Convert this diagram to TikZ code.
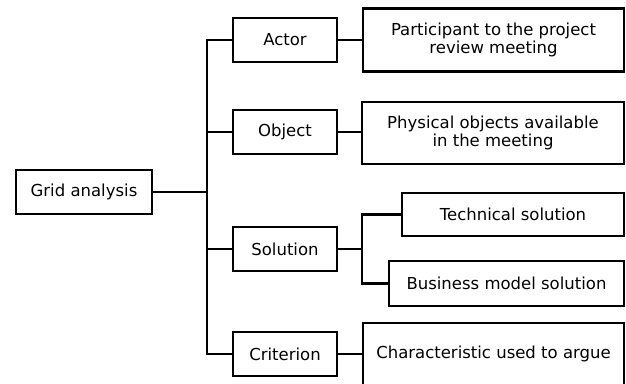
\documentclass[tikz,border=0pt]{standalone}
\usepackage{fontspec}
\setmainfont{DejaVu Sans}
\usetikzlibrary{calc}
\tikzset{
  box/.style={draw, line width=2.2pt, align=center, inner sep=0pt,
    font=\fontsize{16.5}{18.5}\selectfont},
  link/.style={line width=2.2pt}
}

\begin{document}
\begin{tikzpicture}[x=1pt, y=-1pt]
		%%%%% START %%%%%
		\useasboundingbox (0, 0) rectangle (626, 383);
		\clip (0, 0) rectangle (626, 383);
		
		\node[box, minimum width=136pt, minimum height=44pt] (grid) at (84, 192) {Grid analysis};
		
		\node[box, minimum width=104pt, minimum height=44pt] (actor) at (285, 40) {Actor};
		\node[box, minimum width=104pt, minimum height=44pt] (object) at (285, 132) {Object};
		\node[box, minimum width=104pt, minimum height=44pt] (solution) at (285, 249) {Solution};
		\node[box, minimum width=104pt, minimum height=44pt] (criterion) at (285, 354) {Criterion};
		
		\node[box, minimum width=261pt, minimum height=63pt] (actordesc) at (493.5, 40) {Participant to the project\\review meeting};
		\node[box, minimum width=262pt, minimum height=62pt] (objectdesc) at (493, 133) {Physical objects available\\in the meeting};
		\node[box, minimum width=222pt, minimum height=43pt] (technical) at (513, 214.5) {Technical solution};
		\node[box, minimum width=235pt, minimum height=45pt] (business) at (506.5, 283.5) {Business model solution};
		\node[box, minimum width=261pt, minimum height=62pt] (criteriondesc) at (493.5, 354) {Characteristic used to argue};
		
		\draw[link] (grid.east) -| ([xshift=-25pt]actor.west) -- (actor.west);
		\draw[link] (grid.east) -| ([xshift=-25pt]object.west) -- (object.west);
		\draw[link] (grid.east) -| ([xshift=-25pt]solution.west) -- (solution.west);
		\draw[link] (grid.east) -| ([xshift=-25pt]criterion.west) -- (criterion.west);
		
		\draw[link] (actor.east) -- (actor.east -| actordesc.west);
		\draw[link] (object.east) -- (object.east -| objectdesc.west);
		\draw[link] (criterion.east) -- (criterion.east -| criteriondesc.west);
		
		\draw[link] (solution.east) -| ([xshift=-39pt]technical.west) -- (technical.west);
		\draw[link] (solution.east) -| ([xshift=-26pt]business.west) -- (business.west);
		%%%%% END %%%%%
	\end{tikzpicture}
\end{document}
